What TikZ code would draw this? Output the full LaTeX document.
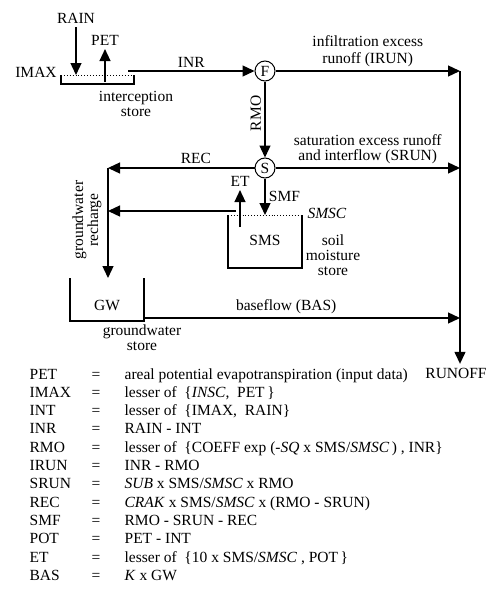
\documentclass[tikz,border=0pt]{standalone}
\usepackage{fontspec}
\setmainfont{Liberation Serif}
\usetikzlibrary{arrows.meta}

\begin{document}
\begin{tikzpicture}[x=1pt, y=-1pt, font=\fontsize{15.5}{15}\selectfont, line width=1.3pt, >={Triangle[length=12pt,width=11pt]}]
		\useasboundingbox (0,0) rectangle (492,589);
		\tikzstyle{junction}=[circle,draw,minimum size=20pt,inner sep=0pt,line width=1pt]
		\tikzstyle{store}=[line width=1.1pt]
		\tikzstyle{storetop}=[dotted,line width=0.9pt]
		
		% interception store
		\node[](rain) at (76,18){RAIN};
		\node[](pet) at (105,40){PET};
		\node[](imax) at (36,72){IMAX};
		\coordinate (is-nw) at (61,75);
		\coordinate (is-ne) at (134,75);
		\coordinate (rain-in) at (76,75);
		\coordinate (pet-out) at (105,82);
		\coordinate (is-out) at (128,71);
		\draw[storetop] (is-nw) -- (is-ne);
		\draw[store] (is-nw) -- ++(0,9) -| (is-ne);
		\node[align=center](is-lbl) at (136,104){interception\\store};
		
		% junctions
		\node[junction](F) at (265,71){F};
		\node[junction](S) at (265,168){S};
		
		% soil moisture store
		\coordinate (sms-nw) at (228,215);
		\coordinate (sms-ne) at (302,215);
		\coordinate (sms-in) at (265,215);
		\draw[storetop] (sms-nw) -- (sms-ne);
		\draw[store] (sms-nw) -- ++(0,53) -| (sms-ne);
		\node[](sms) at (265,240){SMS};
		\node[](smsc) at (327,213){\textit{SMSC}};
		\node[align=center](sms-lbl) at (333,255){soil\\moisture\\store};
		\node[](et) at (240,181){ET};
		\coordinate (et-base) at (240,227);
		\coordinate (sms-out) at (236,211);
		
		% groundwater store
		\coordinate (gw-nw) at (70,278);
		\coordinate (gw-ne) at (144,278);
		\draw[store] (gw-nw) -- ++(0,43) -| (gw-ne);
		\node[](gw) at (107,305){GW};
		\node[align=center](gw-lbl) at (142,338){groundwater\\store};
		\coordinate (rec-c) at (108,168);
		\coordinate (gw-in) at (108,278);
		\coordinate (smf-c) at (108,211);
		\coordinate (gw-out) at (144,318);
		\node[rotate=90,align=center](rch-lbl) at (87,220){groundwater\\recharge};
		
		% runoff
		\coordinate (irun-end) at (460,71);
		\coordinate (srun-end) at (460,168);
		\coordinate (bas-end) at (460,318);
		\node[](runoff) at (456,373){RUNOFF};
		
		\path[->] (rain) edge (rain-in)
		(pet-out) edge (pet)
		(is-out) edge node[above]{INR} (F)
		(F) edge node[above,align=center,font=\fontsize{15.5}{17}\selectfont]{infiltration excess\\runoff (IRUN)} (irun-end)
		(F) edge node[pos=0.42,rotate=90,anchor=south]{RMO} (S)
		(S) edge node[above,align=center]{saturation excess runoff\\and interflow (SRUN)} (srun-end)
		(S) edge node[pos=0.4,above]{REC} (rec-c)
		(S) edge node[right]{SMF} (sms-in)
		(et-base) edge (et)
		(sms-out) edge (smf-c)
		(rec-c) edge (gw-in)
		(gw-out) edge node[pos=0.45,above]{baseflow (BAS)} (bas-end)
		(irun-end) edge (irun-end |- runoff.north);
		
		% definitions
		\foreach \var/\rhs [count=\i from 0] in {
			PET/{areal potential evapotranspiration (input data)},
			IMAX/{lesser of \ \{\textit{INSC}, \ PET\,\}},
			INT/{lesser of \ \{IMAX, \ RAIN\}},
			INR/{RAIN - INT},
			RMO/{lesser of \ \{COEFF exp (-\textit{SQ} x SMS/\textit{SMSC}\,) , INR\}},
			IRUN/{INR - RMO},
			SRUN/{\textit{SUB} x SMS/\textit{SMSC} x RMO},
			REC/{\textit{CRAK} x SMS/\textit{SMSC} x (RMO - SRUN)},
			SMF/{RMO - SRUN - REC},
			POT/{PET - INT},
			ET/{lesser of \ \{10 x SMS/\textit{SMSC} , POT\,\}},
			BAS/{\textit{K} x GW}}
		{
			\node[anchor=base west,inner sep=0pt](var-\i) at (29,379+18.3*\i){\var};
			\node[anchor=base,inner sep=0pt](eq-\i) at (96,379+18.3*\i){=};
			\node[anchor=base west,inner sep=0pt](def-\i) at (124,379+18.3*\i){\rhs};
		}
\end{tikzpicture}
\end{document}
